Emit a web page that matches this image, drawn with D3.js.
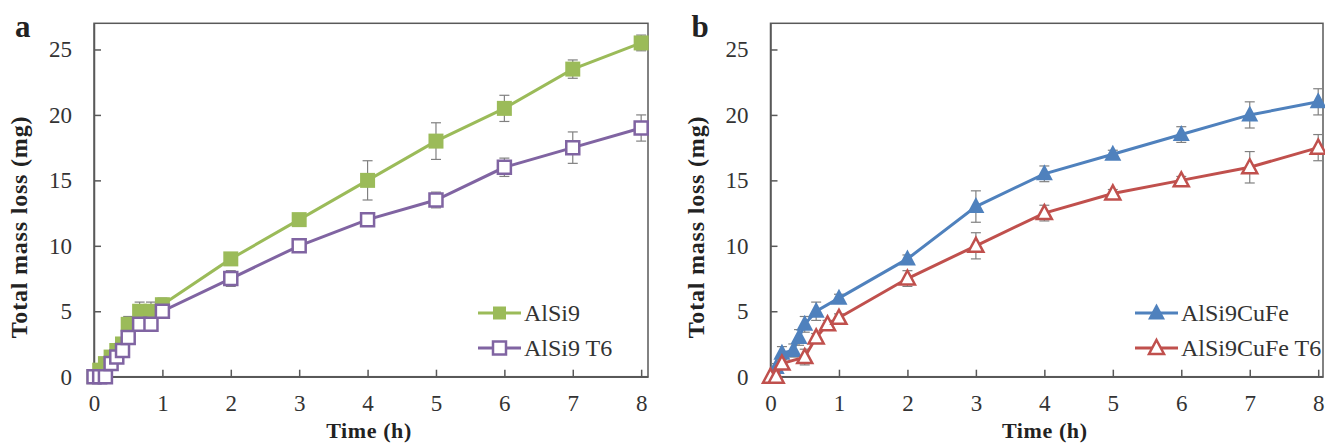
<!DOCTYPE html>
<html>
<head>
<meta charset="utf-8">
<script src="https://cdn.jsdelivr.net/npm/d3@7"></script>
<style>
  body { margin: 0; background: #fff; }
  svg { display: block; font-family: "Liberation Serif", "DejaVu Serif", serif; }
</style>
</head>
<body>
<svg id="chart" width="1325" height="443"></svg>
<script>
// data (time in h, mass loss in mg)
var timesA = [0, 0.083, 0.167, 0.25, 0.333, 0.417, 0.5, 0.667, 0.833, 1, 2, 3, 4, 5, 6, 7, 8];
var alsi9 = [0, 0.5, 1, 1.5, 2, 2.5, 4, 5, 5, 5.5, 9, 12, 15, 18, 20.5, 23.5, 25.5];
var alsi9Err = [0, 0.2, 0.3, 0.3, 0.3, 0.3, 0.6, 0.7, 0.7, 0.5, 0.3, 0.3, 1.5, 1.4, 1, 0.7, 0.6];
var alsi9T6 = [0, 0, 0, 1, 1.5, 2, 3, 4, 4, 5, 7.5, 10, 12, 13.5, 16, 17.5, 19];
var alsi9T6Err = [0, 0, 0, 0.3, 0.3, 0.3, 0.3, 0.3, 0.3, 0.4, 0.6, 0.3, 0.3, 0.6, 0.7, 1.2, 1];

var timesCuFe = [0, 0.083, 0.167, 0.333, 0.417, 0.5, 0.667, 1, 2, 3, 4, 5, 6, 7, 8];
var cufe = [0, 0.7, 1.8, 2, 3, 4, 5, 6, 9, 13, 15.5, 17, 18.5, 20, 21];
var cufeErr = [0, 0.3, 0.5, 0.5, 0.6, 0.6, 0.7, 0.3, 0.3, 1.2, 0.6, 0.3, 0.6, 1, 1];
var timesCuFeT6 = [0, 0.083, 0.167, 0.5, 0.667, 0.833, 1, 2, 3, 4, 5, 6, 7, 8];
var cufeT6 = [0, 0, 1, 1.5, 3, 4, 4.5, 7.5, 10, 12.5, 14, 15, 16, 17.5];
var cufeT6Err = [0, 0, 0.3, 0.6, 0.3, 0.3, 0.3, 0.6, 1, 0.6, 0.3, 0.3, 1.2, 1];

var xTicks = [0, 1, 2, 3, 4, 5, 6, 7, 8];
var yTicks = [0, 5, 10, 15, 20, 25];

var svg = d3.select("#chart");
var axisColor = "#595959";
var errColor = "#808080";

function zip(ts, vs, es) {
  return ts.map(function(t, i) { return {t: t, v: vs[i], e: es[i]}; });
}

function drawPanel(p) {
  var x = d3.scaleLinear().domain([0, p.xMax]).range([p.left, p.right]);
  var y = d3.scaleLinear().domain([0, 27]).range([376.7, 23.3]);
  var g = svg.append("g");

  // frame
  g.append("rect")
    .attr("x", p.left).attr("y", y(27))
    .attr("width", p.right - p.left).attr("height", y(0) - y(27))
    .attr("fill", "none").attr("stroke", axisColor).attr("stroke-width", 1.5);

  // axes (ticks inside)
  var xa = g.append("g").attr("transform", "translate(0," + y(0) + ")")
    .call(d3.axisBottom(x).tickValues(xTicks).tickSizeInner(-7).tickSizeOuter(0).tickPadding(18));
  var ya = g.append("g").attr("transform", "translate(" + p.left + ",0)")
    .call(d3.axisLeft(y).tickValues(yTicks).tickSizeInner(-7).tickSizeOuter(0).tickPadding(22));
  [xa, ya].forEach(function(a) {
    a.select(".domain").attr("stroke", axisColor).attr("stroke-width", 1.5);
    a.selectAll(".tick line").attr("stroke", axisColor).attr("stroke-width", 1.5);
    a.selectAll(".tick text").attr("fill", "#333").style("font-size", "23px")
      .style("font-family", "Liberation Serif, serif");
  });

  // axis titles
  g.append("text")
    .attr("transform", "translate(" + (p.left - 67) + ",227) rotate(-90)")
    .attr("text-anchor", "middle")
    .style("font-size", "24px").style("font-weight", "bold").attr("fill", "#222")
    .style("letter-spacing", "0.8px")
    .text("Total mass loss (mg)");
  g.append("text")
    .attr("x", (p.left + p.right) / 2 - 2).attr("y", 438)
    .attr("text-anchor", "middle")
    .style("font-size", "22px").style("font-weight", "bold").attr("fill", "#222")
    .style("letter-spacing", "0.6px")
    .text("Time (h)");

  // panel letter
  g.append("text")
    .attr("x", p.left - 79).attr("y", 37)
    .style("font-size", "31px").style("font-weight", "bold").attr("fill", "#222")
    .text(p.letter);

  var line = d3.line().x(function(d) { return x(d.t); }).y(function(d) { return y(d.v); });

  p.series.forEach(function(s) {
    var data = zip(s.t, s.v, s.e);
    var sg = g.append("g");

    // error bars
    var eb = sg.selectAll("g.err").data(data.filter(function(d) { return d.e > 0; }))
      .enter().append("g").attr("class", "err")
      .attr("stroke", errColor).attr("stroke-width", 1.2);
    eb.append("line")
      .attr("x1", function(d) { return x(d.t); }).attr("x2", function(d) { return x(d.t); })
      .attr("y1", function(d) { return y(d.v - d.e); }).attr("y2", function(d) { return y(d.v + d.e); });
    [-1, 1].forEach(function(sgn) {
      eb.append("line")
        .attr("x1", function(d) { return x(d.t) - 5; }).attr("x2", function(d) { return x(d.t) + 5; })
        .attr("y1", function(d) { return y(d.v + sgn * d.e); }).attr("y2", function(d) { return y(d.v + sgn * d.e); });
    });

    sg.append("path").datum(data)
      .attr("d", line).attr("fill", "none")
      .attr("stroke", s.color).attr("stroke-width", 3);

    sg.selectAll("path.mk").data(data).enter().append("path")
      .attr("class", "mk")
      .attr("transform", function(d) { return "translate(" + x(d.t) + "," + y(d.v) + ")"; })
      .attr("d", s.shape)
      .attr("fill", s.filled ? s.color : "#fff")
      .attr("stroke", s.color).attr("stroke-width", s.filled ? 0 : 2.5);
  });

  // legend
  p.series.forEach(function(s, i) {
    var ly = 313 + i * 35;
    var lx = p.legendX;
    g.append("line").attr("x1", lx).attr("x2", lx + 43).attr("y1", ly).attr("y2", ly)
      .attr("stroke", s.color).attr("stroke-width", 3);
    g.append("path").attr("transform", "translate(" + (lx + 21.5) + "," + ly + ")")
      .attr("d", s.legendShape)
      .attr("fill", s.filled ? s.color : "#fff")
      .attr("stroke", s.color).attr("stroke-width", s.filled ? 0 : 2.5);
    g.append("text").attr("x", lx + 46).attr("y", ly + 8)
      .style("font-size", "24px").attr("fill", "#333").text(s.name);
  });
}

var sq = "M-7.5,-7.5H7.5V7.5H-7.5Z";
var sqOpen = "M-6.5,-6.5H6.5V6.5H-6.5Z";
var sqLeg = "M-6.5,-6.5H6.5V6.5H-6.5Z";
var tri = "M0,-9.5L8.5,6.5H-8.5Z";
var triOpen = "M0,-8L7.5,6H-7.5Z";

drawPanel({
  letter: "a", left: 94, right: 648, xMax: 8.1, legendX: 478,
  series: [
    {name: "AlSi9", t: timesA, v: alsi9, e: alsi9Err, color: "#9BBB59", filled: true, shape: sq, legendShape: sqLeg},
    {name: "AlSi9 T6", t: timesA, v: alsi9T6, e: alsi9T6Err, color: "#8064A2", filled: false, shape: sqOpen, legendShape: sqLeg}
  ]
});

drawPanel({
  letter: "b", left: 770.5, right: 1323, xMax: 8.07, legendX: 1135,
  series: [
    {name: "AlSi9CuFe", t: timesCuFe, v: cufe, e: cufeErr, color: "#4F81BD", filled: true, shape: tri, legendShape: tri},
    {name: "AlSi9CuFe T6", t: timesCuFeT6, v: cufeT6, e: cufeT6Err, color: "#C0504D", filled: false, shape: triOpen, legendShape: triOpen}
  ]
});
</script>
</body>
</html>
